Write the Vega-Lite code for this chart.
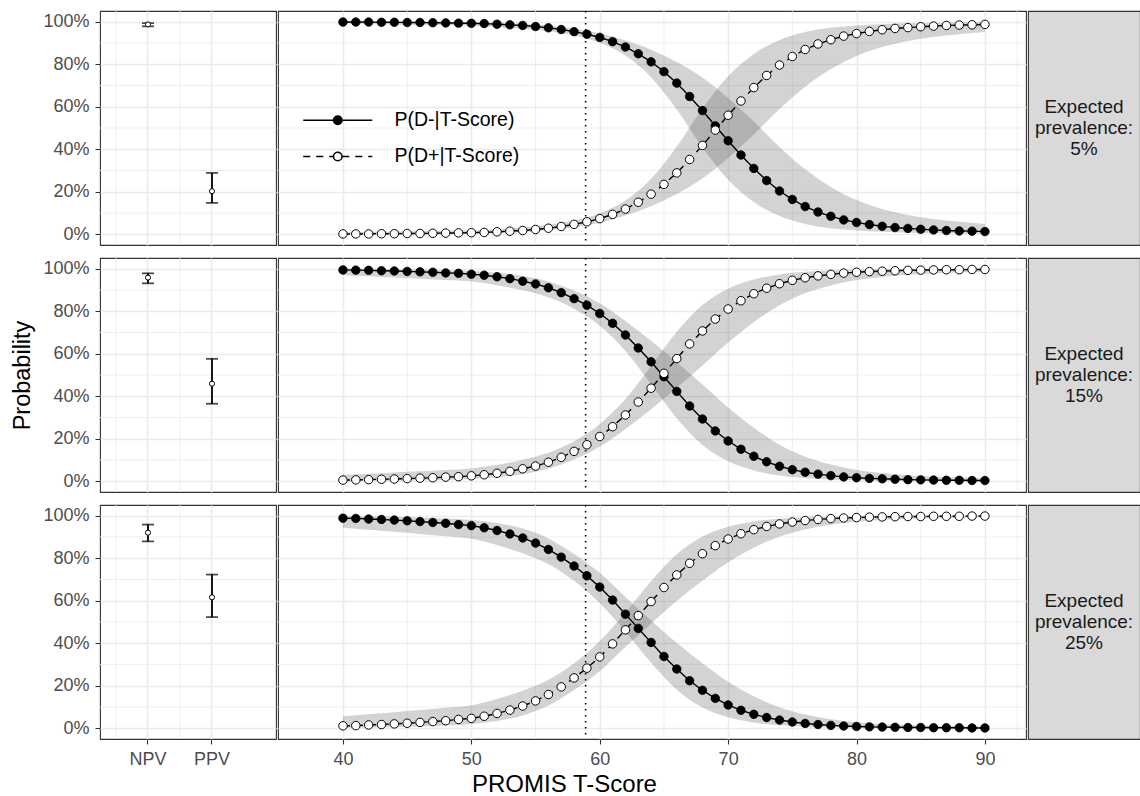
{
  "$schema": "https://vega.github.io/schema/vega-lite/v6.json",
  "padding": {"left": 10, "top": 9, "right": 0, "bottom": 0},
  "config": {
    "font": "Liberation Sans",
    "view": {"stroke": "#333333", "strokeWidth": 1.1},
    "axis": {"labelFont": "Liberation Sans", "titleFont": "Liberation Sans", "labelFontSize": 18, "labelColor": "#4D4D4D", "tickColor": "#333333", "tickSize": 5, "tickWidth": 1.1, "domain": false, "gridColor": "#EBEBEB", "gridWidth": 1.6, "titleFontWeight": "normal", "titleColor": "#000000", "titleFontSize": 23.5},
    "legend": {"padding": 0, "labelFont": "Liberation Sans"}
  },
  "datasets": {
    "minorx": [{"x": 45}, {"x": 55}, {"x": 65}, {"x": 75}, {"x": 85}, {"x": 92.5}],
    "minory": [{"y": 0.1}, {"y": 0.3}, {"y": 0.5}, {"y": 0.7}, {"y": 0.9}],
    "threshold": [{"t": 58.9}],
    "strips": [
      {"r": 1, "label": "Expected\nprevalence:\n5%"},
      {"r": 2, "label": "Expected\nprevalence:\n15%"},
      {"r": 3, "label": "Expected\nprevalence:\n25%"}
    ],
    "pv": [
      {"r": 1, "stat": "NPV", "v": 0.987, "lo": 0.978, "hi": 0.993},
      {"r": 1, "stat": "PPV", "v": 0.203, "lo": 0.148, "hi": 0.289},
      {"r": 2, "stat": "NPV", "v": 0.958, "lo": 0.931, "hi": 0.978},
      {"r": 2, "stat": "PPV", "v": 0.459, "lo": 0.365, "hi": 0.576},
      {"r": 3, "stat": "NPV", "v": 0.920, "lo": 0.879, "hi": 0.958},
      {"r": 3, "stat": "PPV", "v": 0.616, "lo": 0.523, "hi": 0.723}
    ],
    "bands": [
      {"r":1,"T":40,"pl":0.000,"ph":0.010,"nl":0.990,"nh":1.000},
      {"r":1,"T":42,"pl":0.001,"ph":0.011,"nl":0.989,"nh":0.999},
      {"r":1,"T":44,"pl":0.001,"ph":0.013,"nl":0.987,"nh":0.999},
      {"r":1,"T":46,"pl":0.001,"ph":0.015,"nl":0.985,"nh":0.999},
      {"r":1,"T":48,"pl":0.002,"ph":0.017,"nl":0.983,"nh":0.998},
      {"r":1,"T":50,"pl":0.003,"ph":0.019,"nl":0.981,"nh":0.997},
      {"r":1,"T":52,"pl":0.006,"ph":0.025,"nl":0.975,"nh":0.994},
      {"r":1,"T":54,"pl":0.010,"ph":0.033,"nl":0.967,"nh":0.990},
      {"r":1,"T":56,"pl":0.019,"ph":0.044,"nl":0.956,"nh":0.981},
      {"r":1,"T":58,"pl":0.033,"ph":0.065,"nl":0.935,"nh":0.967},
      {"r":1,"T":60,"pl":0.055,"ph":0.099,"nl":0.901,"nh":0.945},
      {"r":1,"T":62,"pl":0.089,"ph":0.159,"nl":0.841,"nh":0.911},
      {"r":1,"T":64,"pl":0.132,"ph":0.261,"nl":0.739,"nh":0.868},
      {"r":1,"T":66,"pl":0.190,"ph":0.413,"nl":0.587,"nh":0.810},
      {"r":1,"T":68,"pl":0.263,"ph":0.592,"nl":0.408,"nh":0.737},
      {"r":1,"T":70,"pl":0.359,"ph":0.743,"nl":0.257,"nh":0.641},
      {"r":1,"T":72,"pl":0.470,"ph":0.848,"nl":0.152,"nh":0.530},
      {"r":1,"T":74,"pl":0.589,"ph":0.914,"nl":0.086,"nh":0.411},
      {"r":1,"T":76,"pl":0.694,"ph":0.951,"nl":0.049,"nh":0.306},
      {"r":1,"T":78,"pl":0.777,"ph":0.971,"nl":0.029,"nh":0.223},
      {"r":1,"T":80,"pl":0.839,"ph":0.982,"nl":0.018,"nh":0.161},
      {"r":1,"T":82,"pl":0.881,"ph":0.988,"nl":0.012,"nh":0.119},
      {"r":1,"T":84,"pl":0.909,"ph":0.992,"nl":0.008,"nh":0.091},
      {"r":1,"T":86,"pl":0.928,"ph":0.994,"nl":0.006,"nh":0.072},
      {"r":1,"T":88,"pl":0.941,"ph":0.996,"nl":0.004,"nh":0.059},
      {"r":1,"T":90,"pl":0.951,"ph":0.997,"nl":0.003,"nh":0.049},
      {"r":2,"T":40,"pl":0.001,"ph":0.031,"nl":0.969,"nh":0.999},
      {"r":2,"T":42,"pl":0.002,"ph":0.036,"nl":0.964,"nh":0.998},
      {"r":2,"T":44,"pl":0.003,"ph":0.042,"nl":0.958,"nh":0.997},
      {"r":2,"T":46,"pl":0.005,"ph":0.047,"nl":0.953,"nh":0.995},
      {"r":2,"T":48,"pl":0.007,"ph":0.054,"nl":0.946,"nh":0.993},
      {"r":2,"T":50,"pl":0.011,"ph":0.061,"nl":0.939,"nh":0.989},
      {"r":2,"T":52,"pl":0.019,"ph":0.078,"nl":0.922,"nh":0.981},
      {"r":2,"T":54,"pl":0.033,"ph":0.102,"nl":0.898,"nh":0.967},
      {"r":2,"T":56,"pl":0.060,"ph":0.135,"nl":0.865,"nh":0.940},
      {"r":2,"T":58,"pl":0.103,"ph":0.189,"nl":0.811,"nh":0.897},
      {"r":2,"T":60,"pl":0.163,"ph":0.269,"nl":0.731,"nh":0.837},
      {"r":2,"T":62,"pl":0.246,"ph":0.387,"nl":0.613,"nh":0.754},
      {"r":2,"T":64,"pl":0.339,"ph":0.542,"nl":0.458,"nh":0.661},
      {"r":2,"T":66,"pl":0.440,"ph":0.703,"nl":0.297,"nh":0.560},
      {"r":2,"T":68,"pl":0.545,"ph":0.829,"nl":0.171,"nh":0.455},
      {"r":2,"T":70,"pl":0.653,"ph":0.906,"nl":0.094,"nh":0.347},
      {"r":2,"T":72,"pl":0.748,"ph":0.949,"nl":0.051,"nh":0.252},
      {"r":2,"T":74,"pl":0.828,"ph":0.973,"nl":0.027,"nh":0.172},
      {"r":2,"T":76,"pl":0.884,"ph":0.985,"nl":0.015,"nh":0.116},
      {"r":2,"T":78,"pl":0.921,"ph":0.991,"nl":0.009,"nh":0.079},
      {"r":2,"T":80,"pl":0.946,"ph":0.995,"nl":0.005,"nh":0.054},
      {"r":2,"T":82,"pl":0.961,"ph":0.997,"nl":0.003,"nh":0.039},
      {"r":2,"T":84,"pl":0.971,"ph":0.998,"nl":0.002,"nh":0.029},
      {"r":2,"T":86,"pl":0.977,"ph":0.998,"nl":0.002,"nh":0.023},
      {"r":2,"T":88,"pl":0.982,"ph":0.999,"nl":0.001,"nh":0.018},
      {"r":2,"T":90,"pl":0.985,"ph":0.999,"nl":0.001,"nh":0.015},
      {"r":3,"T":40,"pl":0.002,"ph":0.057,"nl":0.943,"nh":0.998},
      {"r":3,"T":42,"pl":0.004,"ph":0.066,"nl":0.934,"nh":0.996},
      {"r":3,"T":44,"pl":0.005,"ph":0.076,"nl":0.924,"nh":0.995},
      {"r":3,"T":46,"pl":0.009,"ph":0.086,"nl":0.914,"nh":0.991},
      {"r":3,"T":48,"pl":0.013,"ph":0.097,"nl":0.903,"nh":0.987},
      {"r":3,"T":50,"pl":0.020,"ph":0.109,"nl":0.891,"nh":0.980},
      {"r":3,"T":52,"pl":0.035,"ph":0.138,"nl":0.862,"nh":0.965},
      {"r":3,"T":54,"pl":0.061,"ph":0.177,"nl":0.823,"nh":0.939},
      {"r":3,"T":56,"pl":0.107,"ph":0.228,"nl":0.772,"nh":0.893},
      {"r":3,"T":58,"pl":0.180,"ph":0.306,"nl":0.694,"nh":0.820},
      {"r":3,"T":60,"pl":0.269,"ph":0.411,"nl":0.589,"nh":0.731},
      {"r":3,"T":62,"pl":0.382,"ph":0.545,"nl":0.455,"nh":0.618},
      {"r":3,"T":64,"pl":0.493,"ph":0.692,"nl":0.308,"nh":0.507},
      {"r":3,"T":66,"pl":0.599,"ph":0.818,"nl":0.182,"nh":0.401},
      {"r":3,"T":68,"pl":0.694,"ph":0.902,"nl":0.098,"nh":0.306},
      {"r":3,"T":70,"pl":0.781,"ph":0.948,"nl":0.052,"nh":0.219},
      {"r":3,"T":72,"pl":0.849,"ph":0.973,"nl":0.027,"nh":0.151},
      {"r":3,"T":74,"pl":0.901,"ph":0.985,"nl":0.015,"nh":0.099},
      {"r":3,"T":76,"pl":0.935,"ph":0.992,"nl":0.008,"nh":0.065},
      {"r":3,"T":78,"pl":0.957,"ph":0.995,"nl":0.005,"nh":0.043},
      {"r":3,"T":80,"pl":0.971,"ph":0.997,"nl":0.003,"nh":0.029},
      {"r":3,"T":82,"pl":0.979,"ph":0.998,"nl":0.002,"nh":0.021},
      {"r":3,"T":84,"pl":0.985,"ph":0.999,"nl":0.001,"nh":0.015},
      {"r":3,"T":86,"pl":0.988,"ph":0.999,"nl":0.001,"nh":0.012},
      {"r":3,"T":88,"pl":0.990,"ph":0.999,"nl":0.001,"nh":0.010},
      {"r":3,"T":90,"pl":0.992,"ph":1.000,"nl":0.000,"nh":0.008}
    ],
    "curves": [
      {"r":1,"T":40,"n":0.998,"p":0.002},{"r":1,"T":41,"n":0.998,"p":0.002},{"r":1,"T":42,"n":0.998,"p":0.002},{"r":1,"T":43,"n":0.997,"p":0.003},{"r":1,"T":44,"n":0.997,"p":0.003},
      {"r":1,"T":45,"n":0.996,"p":0.004},{"r":1,"T":46,"n":0.996,"p":0.004},{"r":1,"T":47,"n":0.995,"p":0.005},{"r":1,"T":48,"n":0.994,"p":0.006},{"r":1,"T":49,"n":0.993,"p":0.007},
      {"r":1,"T":50,"n":0.992,"p":0.008},{"r":1,"T":51,"n":0.991,"p":0.009},{"r":1,"T":52,"n":0.988,"p":0.012},{"r":1,"T":53,"n":0.985,"p":0.015},{"r":1,"T":54,"n":0.982,"p":0.018},
      {"r":1,"T":55,"n":0.977,"p":0.023},{"r":1,"T":56,"n":0.971,"p":0.029},{"r":1,"T":57,"n":0.963,"p":0.037},{"r":1,"T":58,"n":0.953,"p":0.047},{"r":1,"T":59,"n":0.941,"p":0.059},
      {"r":1,"T":60,"n":0.926,"p":0.074},{"r":1,"T":61,"n":0.906,"p":0.094},{"r":1,"T":62,"n":0.881,"p":0.119},{"r":1,"T":63,"n":0.849,"p":0.151},{"r":1,"T":64,"n":0.811,"p":0.189},
      {"r":1,"T":65,"n":0.765,"p":0.235},{"r":1,"T":66,"n":0.711,"p":0.289},{"r":1,"T":67,"n":0.648,"p":0.352},{"r":1,"T":68,"n":0.582,"p":0.418},{"r":1,"T":69,"n":0.510,"p":0.490},
      {"r":1,"T":70,"n":0.440,"p":0.560},{"r":1,"T":71,"n":0.373,"p":0.627},{"r":1,"T":72,"n":0.310,"p":0.690},{"r":1,"T":73,"n":0.253,"p":0.747},{"r":1,"T":74,"n":0.204,"p":0.796},
      {"r":1,"T":75,"n":0.164,"p":0.836},{"r":1,"T":76,"n":0.131,"p":0.869},{"r":1,"T":77,"n":0.105,"p":0.895},{"r":1,"T":78,"n":0.085,"p":0.915},{"r":1,"T":79,"n":0.068,"p":0.932},
      {"r":1,"T":80,"n":0.056,"p":0.944},{"r":1,"T":81,"n":0.046,"p":0.954},{"r":1,"T":82,"n":0.038,"p":0.962},{"r":1,"T":83,"n":0.032,"p":0.968},{"r":1,"T":84,"n":0.028,"p":0.972},
      {"r":1,"T":85,"n":0.024,"p":0.976},{"r":1,"T":86,"n":0.021,"p":0.979},{"r":1,"T":87,"n":0.018,"p":0.982},{"r":1,"T":88,"n":0.016,"p":0.984},{"r":1,"T":89,"n":0.015,"p":0.985},
      {"r":1,"T":90,"n":0.013,"p":0.987},
      {"r":2,"T":40,"n":0.994,"p":0.006},{"r":2,"T":41,"n":0.993,"p":0.007},{"r":2,"T":42,"n":0.992,"p":0.008},{"r":2,"T":43,"n":0.990,"p":0.010},{"r":2,"T":44,"n":0.989,"p":0.011},
      {"r":2,"T":45,"n":0.987,"p":0.013},{"r":2,"T":46,"n":0.985,"p":0.015},{"r":2,"T":47,"n":0.983,"p":0.017},{"r":2,"T":48,"n":0.980,"p":0.020},{"r":2,"T":49,"n":0.978,"p":0.022},
      {"r":2,"T":50,"n":0.974,"p":0.026},{"r":2,"T":51,"n":0.969,"p":0.031},{"r":2,"T":52,"n":0.962,"p":0.038},{"r":2,"T":53,"n":0.953,"p":0.047},{"r":2,"T":54,"n":0.941,"p":0.059},
      {"r":2,"T":55,"n":0.928,"p":0.072},{"r":2,"T":56,"n":0.910,"p":0.090},{"r":2,"T":57,"n":0.887,"p":0.113},{"r":2,"T":58,"n":0.859,"p":0.141},{"r":2,"T":59,"n":0.828,"p":0.172},
      {"r":2,"T":60,"n":0.789,"p":0.211},{"r":2,"T":61,"n":0.743,"p":0.257},{"r":2,"T":62,"n":0.688,"p":0.312},{"r":2,"T":63,"n":0.627,"p":0.373},{"r":2,"T":64,"n":0.562,"p":0.438},
      {"r":2,"T":65,"n":0.492,"p":0.508},{"r":2,"T":66,"n":0.423,"p":0.577},{"r":2,"T":67,"n":0.354,"p":0.646},{"r":2,"T":68,"n":0.293,"p":0.707},{"r":2,"T":69,"n":0.237,"p":0.763},
      {"r":2,"T":70,"n":0.190,"p":0.810},{"r":2,"T":71,"n":0.151,"p":0.849},{"r":2,"T":72,"n":0.118,"p":0.882},{"r":2,"T":73,"n":0.092,"p":0.908},{"r":2,"T":74,"n":0.071,"p":0.929},
      {"r":2,"T":75,"n":0.055,"p":0.945},{"r":2,"T":76,"n":0.043,"p":0.957},{"r":2,"T":77,"n":0.034,"p":0.966},{"r":2,"T":78,"n":0.027,"p":0.973},{"r":2,"T":79,"n":0.021,"p":0.979},
      {"r":2,"T":80,"n":0.017,"p":0.983},{"r":2,"T":81,"n":0.014,"p":0.986},{"r":2,"T":82,"n":0.012,"p":0.988},{"r":2,"T":83,"n":0.010,"p":0.990},{"r":2,"T":84,"n":0.008,"p":0.992},
      {"r":2,"T":85,"n":0.007,"p":0.993},{"r":2,"T":86,"n":0.006,"p":0.994},{"r":2,"T":87,"n":0.005,"p":0.995},{"r":2,"T":88,"n":0.005,"p":0.995},{"r":2,"T":89,"n":0.004,"p":0.996},
      {"r":2,"T":90,"n":0.004,"p":0.996},
      {"r":3,"T":40,"n":0.988,"p":0.012},{"r":3,"T":41,"n":0.987,"p":0.013},{"r":3,"T":42,"n":0.984,"p":0.016},{"r":3,"T":43,"n":0.982,"p":0.018},{"r":3,"T":44,"n":0.979,"p":0.021},
      {"r":3,"T":45,"n":0.976,"p":0.024},{"r":3,"T":46,"n":0.972,"p":0.028},{"r":3,"T":47,"n":0.968,"p":0.032},{"r":3,"T":48,"n":0.964,"p":0.036},{"r":3,"T":49,"n":0.958,"p":0.042},
      {"r":3,"T":50,"n":0.953,"p":0.047},{"r":3,"T":51,"n":0.943,"p":0.057},{"r":3,"T":52,"n":0.930,"p":0.070},{"r":3,"T":53,"n":0.914,"p":0.086},{"r":3,"T":54,"n":0.895,"p":0.105},
      {"r":3,"T":55,"n":0.871,"p":0.129},{"r":3,"T":56,"n":0.841,"p":0.159},{"r":3,"T":57,"n":0.805,"p":0.195},{"r":3,"T":58,"n":0.763,"p":0.237},{"r":3,"T":59,"n":0.717,"p":0.283},
      {"r":3,"T":60,"n":0.664,"p":0.336},{"r":3,"T":61,"n":0.603,"p":0.397},{"r":3,"T":62,"n":0.537,"p":0.463},{"r":3,"T":63,"n":0.470,"p":0.530},{"r":3,"T":64,"n":0.404,"p":0.596},
      {"r":3,"T":65,"n":0.338,"p":0.662},{"r":3,"T":66,"n":0.279,"p":0.721},{"r":3,"T":67,"n":0.224,"p":0.776},{"r":3,"T":68,"n":0.179,"p":0.821},{"r":3,"T":69,"n":0.141,"p":0.859},
      {"r":3,"T":70,"n":0.110,"p":0.890},{"r":3,"T":71,"n":0.085,"p":0.915},{"r":3,"T":72,"n":0.066,"p":0.934},{"r":3,"T":73,"n":0.051,"p":0.949},{"r":3,"T":74,"n":0.039,"p":0.961},
      {"r":3,"T":75,"n":0.030,"p":0.970},{"r":3,"T":76,"n":0.023,"p":0.977},{"r":3,"T":77,"n":0.018,"p":0.982},{"r":3,"T":78,"n":0.014,"p":0.986},{"r":3,"T":79,"n":0.011,"p":0.989},
      {"r":3,"T":80,"n":0.009,"p":0.991},{"r":3,"T":81,"n":0.007,"p":0.993},{"r":3,"T":82,"n":0.006,"p":0.994},{"r":3,"T":83,"n":0.005,"p":0.995},{"r":3,"T":84,"n":0.004,"p":0.996},
      {"r":3,"T":85,"n":0.004,"p":0.996},{"r":3,"T":86,"n":0.003,"p":0.997},{"r":3,"T":87,"n":0.003,"p":0.997},{"r":3,"T":88,"n":0.003,"p":0.997},{"r":3,"T":89,"n":0.002,"p":0.998},
      {"r":3,"T":90,"n":0.002,"p":0.998}
    ]
  },
  "spacing": 9,
  "resolve": {"scale": {"fill": "independent", "strokeDash": "independent"}},
  "vconcat": [
    {
      "spacing": 0,
      "resolve": {"scale": {"fill": "independent", "strokeDash": "independent"}},
      "hconcat": [
        {
          "width": 176, "height": 234,
          "layer": [
            {"data": {"name": "minory"}, "mark": {"type": "rule", "color": "#EBEBEB", "strokeWidth": 0.8},
             "encoding": {"y": {"field": "y", "type": "quantitative", "scale": {"domain": [-0.05, 1.05], "nice": false, "zero": false},
               "axis": {"values": [0, 0.2, 0.4, 0.6, 0.8, 1], "format": ".0%", "grid": true, "title": null, "labelPadding": 6}}}},
            {"data": {"name": "pv"}, "transform": [{"filter": "datum.r == 1"}], "mark": {"type": "rule", "color": "#EBEBEB", "strokeWidth": 0.8, "xOffset": -32},
             "encoding": {"x": {"field": "stat", "type": "nominal", "scale": {"type": "band", "domain": ["NPV", "PPV"], "paddingInner": 0, "paddingOuter": 0.375, "align": 0.333},
               "axis": {"labels": false, "ticks": false, "domain": false, "title": null, "grid": true}}}},
            {"data": {"name": "pv"}, "transform": [{"filter": "datum.r == 1"}], "mark": {"type": "errorbar", "ticks": true, "color": "black", "thickness": 1.8, "size": 12},
             "encoding": {"x": {"field": "stat", "type": "nominal", "scale": {"type": "band", "domain": ["NPV", "PPV"], "paddingInner": 0, "paddingOuter": 0.375, "align": 0.333},
               "axis": {"labels": false, "ticks": false, "domain": false, "title": null, "grid": true}},
               "y": {"field": "lo", "type": "quantitative", "title": null, "scale": {"domain": [-0.05, 1.05], "nice": false, "zero": false}}, "y2": {"field": "hi"}}},
            {"data": {"name": "pv"}, "transform": [{"filter": "datum.r == 1"}], "mark": {"type": "point", "shape": "circle", "filled": true, "fill": "white", "stroke": "black", "strokeWidth": 1, "size": 26, "opacity": 1},
             "encoding": {"x": {"field": "stat", "type": "nominal", "scale": {"type": "band", "domain": ["NPV", "PPV"], "paddingInner": 0, "paddingOuter": 0.375, "align": 0.333},
               "axis": {"labels": false, "ticks": false, "domain": false, "title": null, "grid": true}},
               "y": {"field": "v", "type": "quantitative", "title": null, "scale": {"domain": [-0.05, 1.05], "nice": false, "zero": false}}}}
          ]
        },
        {
          "width": 748, "height": 234,
          "layer": [
            {"data": {"name": "minory"}, "mark": {"type": "rule", "color": "#EBEBEB", "strokeWidth": 0.8},
             "encoding": {"y": {"field": "y", "type": "quantitative", "scale": {"domain": [-0.05, 1.05], "nice": false, "zero": false},
               "axis": {"values": [0, 0.2, 0.4, 0.6, 0.8, 1], "labels": false, "ticks": false, "domain": false, "title": null, "grid": true}}}},
            {"data": {"name": "minorx"}, "mark": {"type": "rule", "color": "#EBEBEB", "strokeWidth": 0.8},
             "encoding": {"x": {"field": "x", "type": "quantitative", "scale": {"domain": [34.94, 93.2], "nice": false, "zero": false},
               "axis": {"values": [40, 50, 60, 70, 80, 90], "labels": false, "ticks": false, "domain": false, "title": null, "grid": true}}}},
            {"data": {"name": "bands"}, "transform": [{"filter": "datum.r == 1"}], "mark": {"type": "area", "fill": "#555555", "fillOpacity": 0.26, "interpolate": "monotone"},
             "encoding": {"x": {"field": "T", "type": "quantitative", "scale": {"domain": [34.94, 93.2], "nice": false, "zero": false}}, "y": {"field": "nl", "type": "quantitative", "scale": {"domain": [-0.05, 1.05], "nice": false, "zero": false}}, "y2": {"field": "nh"}}},
            {"data": {"name": "bands"}, "transform": [{"filter": "datum.r == 1"}], "mark": {"type": "area", "fill": "#555555", "fillOpacity": 0.26, "interpolate": "monotone"},
             "encoding": {"x": {"field": "T", "type": "quantitative", "scale": {"domain": [34.94, 93.2], "nice": false, "zero": false}}, "y": {"field": "pl", "type": "quantitative", "scale": {"domain": [-0.05, 1.05], "nice": false, "zero": false}}, "y2": {"field": "ph"}}},
            {"data": {"name": "threshold"}, "mark": {"type": "rule", "color": "black", "strokeWidth": 1.6, "strokeDash": [1.6, 4.4]},
             "encoding": {"x": {"field": "t", "type": "quantitative", "scale": {"domain": [34.94, 93.2], "nice": false, "zero": false}}}},
            {"data": {"name": "curves"}, "transform": [{"filter": "datum.r == 1"}], "mark": {"type": "line", "color": "black", "strokeWidth": 1.4},
             "encoding": {"x": {"field": "T", "type": "quantitative", "scale": {"domain": [34.94, 93.2], "nice": false, "zero": false}}, "y": {"field": "n", "type": "quantitative", "scale": {"domain": [-0.05, 1.05], "nice": false, "zero": false}},
               "strokeDash": {"datum": "P(D-|T-Score)", "scale": {"domain": ["P(D-|T-Score)", "P(D+|T-Score)"], "range": [[1, 0], [7, 6]]},
                 "legend": {"orient": "none", "legendX": 48.75, "legendY": 98.25, "title": null, "symbolType": "M-3.45,0H-0.45M0.45,0H3.45", "symbolSize": 400, "symbolStrokeWidth": 1.5, "symbolStrokeColor": "black", "symbolFillColor": "transparent", "labelFontSize": 19.5, "labelColor": "black", "labelOffset": 45.75, "rowPadding": 15.2, "padding": 0}}}},
            {"data": {"name": "curves"}, "transform": [{"filter": "datum.r == 1"}], "mark": {"type": "point", "shape": "circle", "filled": true, "stroke": "black", "strokeWidth": 0.8, "size": 72, "opacity": 1},
             "encoding": {"x": {"field": "T", "type": "quantitative", "scale": {"domain": [34.94, 93.2], "nice": false, "zero": false}}, "y": {"field": "n", "type": "quantitative", "scale": {"domain": [-0.05, 1.05], "nice": false, "zero": false}},
               "fill": {"datum": "neg", "scale": {"domain": ["neg", "pos"], "range": ["black", "white"]},
                 "legend": {"orient": "none", "legendX": 48.75, "legendY": 98.25, "title": null, "symbolType": "M0.425,0A0.425,0.425,0,1,1,-0.425,0A0.425,0.425,0,1,1,0.425,0Z", "symbolSize": 400, "symbolStrokeWidth": 1.5, "symbolStrokeColor": "black", "labelFontSize": 19.5, "labelExpr": "''", "labelOffset": 45.75, "rowPadding": 15.2, "padding": 0}}}},
            {"data": {"name": "curves"}, "transform": [{"filter": "datum.r == 1"}], "mark": {"type": "line", "color": "black", "strokeWidth": 1.4},
             "encoding": {"x": {"field": "T", "type": "quantitative", "scale": {"domain": [34.94, 93.2], "nice": false, "zero": false}}, "y": {"field": "p", "type": "quantitative", "scale": {"domain": [-0.05, 1.05], "nice": false, "zero": false}},
               "strokeDash": {"datum": "P(D+|T-Score)"}}},
            {"data": {"name": "curves"}, "transform": [{"filter": "datum.r == 1"}], "mark": {"type": "point", "shape": "circle", "filled": true, "stroke": "black", "strokeWidth": 1, "size": 72, "opacity": 1},
             "encoding": {"x": {"field": "T", "type": "quantitative", "scale": {"domain": [34.94, 93.2], "nice": false, "zero": false}}, "y": {"field": "p", "type": "quantitative", "scale": {"domain": [-0.05, 1.05], "nice": false, "zero": false}},
               "fill": {"datum": "pos"}}}
          ]
        },
        {
          "width": 112, "height": 234,
          "view": {"fill": "#D9D9D9", "stroke": "#333333", "strokeWidth": 1.1},
          "data": {"name": "strips"}, "transform": [{"filter": "datum.r == 1"}],
          "mark": {"type": "text", "lineBreak": "\n", "fontSize": 19, "color": "#1A1A1A", "font": "Liberation Sans", "lineHeight": 21, "align": "center", "baseline": "middle", "dy": -21},
          "encoding": {"text": {"field": "label", "type": "nominal"}}
        }
      ]
    },
    {
      "spacing": 0,
      "hconcat": [
        {
          "width": 176, "height": 234,
          "layer": [
            {"data": {"name": "minory"}, "mark": {"type": "rule", "color": "#EBEBEB", "strokeWidth": 0.8},
             "encoding": {"y": {"field": "y", "type": "quantitative", "title": "Probability", "scale": {"domain": [-0.05, 1.05], "nice": false, "zero": false},
               "axis": {"values": [0, 0.2, 0.4, 0.6, 0.8, 1], "format": ".0%", "grid": true, "title": "Probability", "titlePadding": 8, "labelPadding": 6}}}},
            {"data": {"name": "pv"}, "transform": [{"filter": "datum.r == 2"}], "mark": {"type": "rule", "color": "#EBEBEB", "strokeWidth": 0.8, "xOffset": -32},
             "encoding": {"x": {"field": "stat", "type": "nominal", "scale": {"type": "band", "domain": ["NPV", "PPV"], "paddingInner": 0, "paddingOuter": 0.375, "align": 0.333},
               "axis": {"labels": false, "ticks": false, "domain": false, "title": null, "grid": true}}}},
            {"data": {"name": "pv"}, "transform": [{"filter": "datum.r == 2"}], "mark": {"type": "errorbar", "ticks": true, "color": "black", "thickness": 1.8, "size": 12},
             "encoding": {"x": {"field": "stat", "type": "nominal", "scale": {"type": "band", "domain": ["NPV", "PPV"], "paddingInner": 0, "paddingOuter": 0.375, "align": 0.333},
               "axis": {"labels": false, "ticks": false, "domain": false, "title": null, "grid": true}},
               "y": {"field": "lo", "type": "quantitative", "title": "Probability", "scale": {"domain": [-0.05, 1.05], "nice": false, "zero": false}}, "y2": {"field": "hi"}}},
            {"data": {"name": "pv"}, "transform": [{"filter": "datum.r == 2"}], "mark": {"type": "point", "shape": "circle", "filled": true, "fill": "white", "stroke": "black", "strokeWidth": 1, "size": 26, "opacity": 1},
             "encoding": {"x": {"field": "stat", "type": "nominal", "scale": {"type": "band", "domain": ["NPV", "PPV"], "paddingInner": 0, "paddingOuter": 0.375, "align": 0.333},
               "axis": {"labels": false, "ticks": false, "domain": false, "title": null, "grid": true}},
               "y": {"field": "v", "type": "quantitative", "title": "Probability", "scale": {"domain": [-0.05, 1.05], "nice": false, "zero": false}}}}
          ]
        },
        {
          "width": 748, "height": 234,
          "layer": [
            {"data": {"name": "minory"}, "mark": {"type": "rule", "color": "#EBEBEB", "strokeWidth": 0.8},
             "encoding": {"y": {"field": "y", "type": "quantitative", "scale": {"domain": [-0.05, 1.05], "nice": false, "zero": false},
               "axis": {"values": [0, 0.2, 0.4, 0.6, 0.8, 1], "labels": false, "ticks": false, "domain": false, "title": null, "grid": true}}}},
            {"data": {"name": "minorx"}, "mark": {"type": "rule", "color": "#EBEBEB", "strokeWidth": 0.8},
             "encoding": {"x": {"field": "x", "type": "quantitative", "scale": {"domain": [34.94, 93.2], "nice": false, "zero": false},
               "axis": {"values": [40, 50, 60, 70, 80, 90], "labels": false, "ticks": false, "domain": false, "title": null, "grid": true}}}},
            {"data": {"name": "bands"}, "transform": [{"filter": "datum.r == 2"}], "mark": {"type": "area", "fill": "#555555", "fillOpacity": 0.26, "interpolate": "monotone"},
             "encoding": {"x": {"field": "T", "type": "quantitative", "scale": {"domain": [34.94, 93.2], "nice": false, "zero": false}}, "y": {"field": "nl", "type": "quantitative", "scale": {"domain": [-0.05, 1.05], "nice": false, "zero": false}}, "y2": {"field": "nh"}}},
            {"data": {"name": "bands"}, "transform": [{"filter": "datum.r == 2"}], "mark": {"type": "area", "fill": "#555555", "fillOpacity": 0.26, "interpolate": "monotone"},
             "encoding": {"x": {"field": "T", "type": "quantitative", "scale": {"domain": [34.94, 93.2], "nice": false, "zero": false}}, "y": {"field": "pl", "type": "quantitative", "scale": {"domain": [-0.05, 1.05], "nice": false, "zero": false}}, "y2": {"field": "ph"}}},
            {"data": {"name": "threshold"}, "mark": {"type": "rule", "color": "black", "strokeWidth": 1.6, "strokeDash": [1.6, 4.4]},
             "encoding": {"x": {"field": "t", "type": "quantitative", "scale": {"domain": [34.94, 93.2], "nice": false, "zero": false}}}},
            {"data": {"name": "curves"}, "transform": [{"filter": "datum.r == 2"}], "mark": {"type": "line", "color": "black", "strokeWidth": 1.4},
             "encoding": {"x": {"field": "T", "type": "quantitative", "scale": {"domain": [34.94, 93.2], "nice": false, "zero": false}}, "y": {"field": "n", "type": "quantitative", "scale": {"domain": [-0.05, 1.05], "nice": false, "zero": false}}}},
            {"data": {"name": "curves"}, "transform": [{"filter": "datum.r == 2"}], "mark": {"type": "point", "shape": "circle", "filled": true, "fill": "black", "stroke": "black", "strokeWidth": 0.8, "size": 72, "opacity": 1},
             "encoding": {"x": {"field": "T", "type": "quantitative", "scale": {"domain": [34.94, 93.2], "nice": false, "zero": false}}, "y": {"field": "n", "type": "quantitative", "scale": {"domain": [-0.05, 1.05], "nice": false, "zero": false}}}},
            {"data": {"name": "curves"}, "transform": [{"filter": "datum.r == 2"}], "mark": {"type": "line", "color": "black", "strokeWidth": 1.4, "strokeDash": [7, 6]},
             "encoding": {"x": {"field": "T", "type": "quantitative", "scale": {"domain": [34.94, 93.2], "nice": false, "zero": false}}, "y": {"field": "p", "type": "quantitative", "scale": {"domain": [-0.05, 1.05], "nice": false, "zero": false}}}},
            {"data": {"name": "curves"}, "transform": [{"filter": "datum.r == 2"}], "mark": {"type": "point", "shape": "circle", "filled": true, "fill": "white", "stroke": "black", "strokeWidth": 1, "size": 72, "opacity": 1},
             "encoding": {"x": {"field": "T", "type": "quantitative", "scale": {"domain": [34.94, 93.2], "nice": false, "zero": false}}, "y": {"field": "p", "type": "quantitative", "scale": {"domain": [-0.05, 1.05], "nice": false, "zero": false}}}}
          ]
        },
        {
          "width": 112, "height": 234,
          "view": {"fill": "#D9D9D9", "stroke": "#333333", "strokeWidth": 1.1},
          "data": {"name": "strips"}, "transform": [{"filter": "datum.r == 2"}],
          "mark": {"type": "text", "lineBreak": "\n", "fontSize": 19, "color": "#1A1A1A", "font": "Liberation Sans", "lineHeight": 21, "align": "center", "baseline": "middle", "dy": -21},
          "encoding": {"text": {"field": "label", "type": "nominal"}}
        }
      ]
    },
    {
      "spacing": 0,
      "hconcat": [
        {
          "width": 176, "height": 234,
          "layer": [
            {"data": {"name": "minory"}, "mark": {"type": "rule", "color": "#EBEBEB", "strokeWidth": 0.8},
             "encoding": {"y": {"field": "y", "type": "quantitative", "scale": {"domain": [-0.05, 1.05], "nice": false, "zero": false},
               "axis": {"values": [0, 0.2, 0.4, 0.6, 0.8, 1], "format": ".0%", "grid": true, "title": null, "labelPadding": 6}}}},
            {"data": {"name": "pv"}, "transform": [{"filter": "datum.r == 3"}], "mark": {"type": "rule", "color": "#EBEBEB", "strokeWidth": 0.8, "xOffset": -32},
             "encoding": {"x": {"field": "stat", "type": "nominal", "scale": {"type": "band", "domain": ["NPV", "PPV"], "paddingInner": 0, "paddingOuter": 0.375, "align": 0.333},
               "axis": {"labels": true, "ticks": true, "domain": false, "title": null, "grid": true, "labelAngle": 0, "labelPadding": 6}}}},
            {"data": {"name": "pv"}, "transform": [{"filter": "datum.r == 3"}], "mark": {"type": "errorbar", "ticks": true, "color": "black", "thickness": 1.8, "size": 12},
             "encoding": {"x": {"field": "stat", "type": "nominal", "scale": {"type": "band", "domain": ["NPV", "PPV"], "paddingInner": 0, "paddingOuter": 0.375, "align": 0.333},
               "axis": {"labels": true, "ticks": true, "domain": false, "title": null, "grid": true, "labelAngle": 0, "labelPadding": 6}},
               "y": {"field": "lo", "type": "quantitative", "title": null, "scale": {"domain": [-0.05, 1.05], "nice": false, "zero": false}}, "y2": {"field": "hi"}}},
            {"data": {"name": "pv"}, "transform": [{"filter": "datum.r == 3"}], "mark": {"type": "point", "shape": "circle", "filled": true, "fill": "white", "stroke": "black", "strokeWidth": 1, "size": 26, "opacity": 1},
             "encoding": {"x": {"field": "stat", "type": "nominal", "scale": {"type": "band", "domain": ["NPV", "PPV"], "paddingInner": 0, "paddingOuter": 0.375, "align": 0.333},
               "axis": {"labels": true, "ticks": true, "domain": false, "title": null, "grid": true, "labelAngle": 0, "labelPadding": 6}},
               "y": {"field": "v", "type": "quantitative", "title": null, "scale": {"domain": [-0.05, 1.05], "nice": false, "zero": false}}}}
          ]
        },
        {
          "width": 748, "height": 234,
          "layer": [
            {"data": {"name": "minory"}, "mark": {"type": "rule", "color": "#EBEBEB", "strokeWidth": 0.8},
             "encoding": {"y": {"field": "y", "type": "quantitative", "scale": {"domain": [-0.05, 1.05], "nice": false, "zero": false},
               "axis": {"values": [0, 0.2, 0.4, 0.6, 0.8, 1], "labels": false, "ticks": false, "domain": false, "title": null, "grid": true}}}},
            {"data": {"name": "minorx"}, "mark": {"type": "rule", "color": "#EBEBEB", "strokeWidth": 0.8},
             "encoding": {"x": {"field": "x", "type": "quantitative", "scale": {"domain": [34.94, 93.2], "nice": false, "zero": false},
               "axis": {"values": [40, 50, 60, 70, 80, 90], "grid": true, "domain": false, "title": "PROMIS T-Score", "titleX": 286, "titleAlign": "center", "titlePadding": 4, "titleFontSize": 24, "labelPadding": 6}}}},
            {"data": {"name": "bands"}, "transform": [{"filter": "datum.r == 3"}], "mark": {"type": "area", "fill": "#555555", "fillOpacity": 0.26, "interpolate": "monotone"},
             "encoding": {"x": {"field": "T", "type": "quantitative", "scale": {"domain": [34.94, 93.2], "nice": false, "zero": false}}, "y": {"field": "nl", "type": "quantitative", "scale": {"domain": [-0.05, 1.05], "nice": false, "zero": false}}, "y2": {"field": "nh"}}},
            {"data": {"name": "bands"}, "transform": [{"filter": "datum.r == 3"}], "mark": {"type": "area", "fill": "#555555", "fillOpacity": 0.26, "interpolate": "monotone"},
             "encoding": {"x": {"field": "T", "type": "quantitative", "scale": {"domain": [34.94, 93.2], "nice": false, "zero": false}}, "y": {"field": "pl", "type": "quantitative", "scale": {"domain": [-0.05, 1.05], "nice": false, "zero": false}}, "y2": {"field": "ph"}}},
            {"data": {"name": "threshold"}, "mark": {"type": "rule", "color": "black", "strokeWidth": 1.6, "strokeDash": [1.6, 4.4]},
             "encoding": {"x": {"field": "t", "type": "quantitative", "scale": {"domain": [34.94, 93.2], "nice": false, "zero": false}}}},
            {"data": {"name": "curves"}, "transform": [{"filter": "datum.r == 3"}], "mark": {"type": "line", "color": "black", "strokeWidth": 1.4},
             "encoding": {"x": {"field": "T", "type": "quantitative", "scale": {"domain": [34.94, 93.2], "nice": false, "zero": false}}, "y": {"field": "n", "type": "quantitative", "scale": {"domain": [-0.05, 1.05], "nice": false, "zero": false}}}},
            {"data": {"name": "curves"}, "transform": [{"filter": "datum.r == 3"}], "mark": {"type": "point", "shape": "circle", "filled": true, "fill": "black", "stroke": "black", "strokeWidth": 0.8, "size": 72, "opacity": 1},
             "encoding": {"x": {"field": "T", "type": "quantitative", "scale": {"domain": [34.94, 93.2], "nice": false, "zero": false}}, "y": {"field": "n", "type": "quantitative", "scale": {"domain": [-0.05, 1.05], "nice": false, "zero": false}}}},
            {"data": {"name": "curves"}, "transform": [{"filter": "datum.r == 3"}], "mark": {"type": "line", "color": "black", "strokeWidth": 1.4, "strokeDash": [7, 6]},
             "encoding": {"x": {"field": "T", "type": "quantitative", "scale": {"domain": [34.94, 93.2], "nice": false, "zero": false}}, "y": {"field": "p", "type": "quantitative", "scale": {"domain": [-0.05, 1.05], "nice": false, "zero": false}}}},
            {"data": {"name": "curves"}, "transform": [{"filter": "datum.r == 3"}], "mark": {"type": "point", "shape": "circle", "filled": true, "fill": "white", "stroke": "black", "strokeWidth": 1, "size": 72, "opacity": 1},
             "encoding": {"x": {"field": "T", "type": "quantitative", "scale": {"domain": [34.94, 93.2], "nice": false, "zero": false}}, "y": {"field": "p", "type": "quantitative", "scale": {"domain": [-0.05, 1.05], "nice": false, "zero": false}}}}
          ]
        },
        {
          "width": 112, "height": 234,
          "view": {"fill": "#D9D9D9", "stroke": "#333333", "strokeWidth": 1.1},
          "data": {"name": "strips"}, "transform": [{"filter": "datum.r == 3"}],
          "mark": {"type": "text", "lineBreak": "\n", "fontSize": 19, "color": "#1A1A1A", "font": "Liberation Sans", "lineHeight": 21, "align": "center", "baseline": "middle", "dy": -21},
          "encoding": {"text": {"field": "label", "type": "nominal"}}
        }
      ]
    }
  ]
}
